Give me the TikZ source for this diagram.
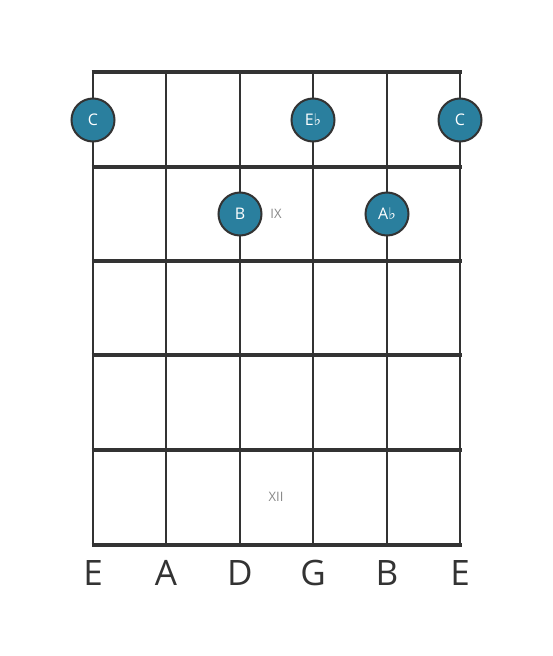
\documentclass[tikz,border=0pt]{standalone}
\usepackage{fontspec}
\setmainfont{Open Sans}
\newfontfamily\flatfont{DejaVu Sans}
\definecolor{notefill}{HTML}{2A7F9E}
\definecolor{linec}{HTML}{333333}
\definecolor{markc}{HTML}{888888}
\newcommand{\flt}{{\flatfont\char"266D}}
\begin{document}
\begin{tikzpicture}[x=1pt,y=-1pt,
  fretline/.style={draw=linec,line width=4.5pt},
  stringline/.style={draw=linec,line width=2.8pt},
  note/.style={circle,draw=linec,line width=2pt,fill=notefill,minimum size=43pt,inner sep=0pt,text=white,font=\fontsize{16}{16}\selectfont},
  marker/.style={text=markc,font=\fontsize{13}{13}\selectfont},
  strlabel/.style={text=linec,font=\fontsize{35}{35}\selectfont}]
\useasboundingbox (0,0) rectangle (553,656);
\fill[white] (0,0) rectangle (553,656);
% strings
\foreach \x [count=\i] in {93,166,240,313,387,460}{
  \coordinate (st\i) at (\x,72);
  \coordinate (sb\i) at (\x,545);
  \draw[stringline] (st\i) -- (sb\i);
}
% frets
\foreach \y [count=\j] in {72,167,261,355,450,545}{
  \coordinate (fl\j) at (91.5,\y);
  \coordinate (fr\j) at (461.5,\y);
  \draw[fretline] (fl\j) -- (fr\j);
}
% notes
\node[note] (n1) at (93,120) {C};
\node[note] (n2) at (313,120) {E\flt};
\node[note] (n3) at (460,120) {C};
\node[note] (n4) at (240,214) {B};
\node[note] (n5) at (387,214) {A\flt};
% markers
\node[marker] (m1) at (276,214) {IX};
\node[marker] (m2) at (276,497) {XII};
% string labels
\node[strlabel] (l1) at (93,573) {E};
\node[strlabel] (l2) at (166,573) {A};
\node[strlabel] (l3) at (240,573) {D};
\node[strlabel] (l4) at (313,573) {G};
\node[strlabel] (l5) at (387,573) {B};
\node[strlabel] (l6) at (460,573) {E};
\end{tikzpicture}
\end{document}
